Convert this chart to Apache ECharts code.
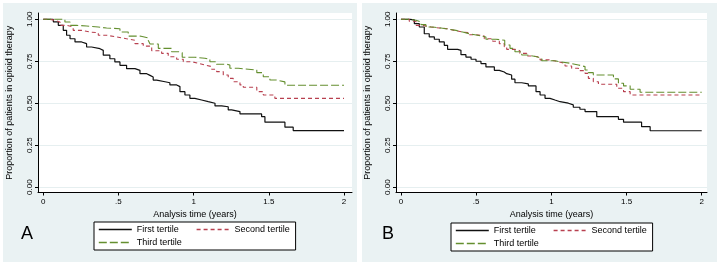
<!DOCTYPE html>
<html>
<head>
<meta charset="utf-8">
<script src="https://cdn.jsdelivr.net/npm/echarts@6/dist/echarts.min.js"></script>
<style>
  html, body { margin: 0; padding: 0; background: #fff; }
  #wrap { position: relative; width: 720px; height: 269px; }
  .panel { position: absolute; top: 3px; height: 259px; background: #eaf2f3; }
  #chart { position: absolute; left: 0; top: 0; width: 720px; height: 269px; }
</style>
</head>
<body>
<div id="wrap">
  <div class="panel" style="left:3px;width:354px"></div>
  <div class="panel" style="left:362px;width:355px"></div>
  <div id="chart"></div>
</div>
<script>
// Kaplan-Meier style step curves, [time in years, proportion]
const seriesNames = ['First tertile', 'Second tertile', 'Third tertile'];
const panelLetters = ['A', 'B'];

const xTicks = [0, 0.5, 1, 1.5, 2];
const xTickLabels = ['0', '.5', '1', '1.5', '2'];
const yTicks = [0, 0.25, 0.5, 0.75, 1];
const yTickLabels = ['0.00', '0.25', '0.50', '0.75', '1.00'];
const xTitle = 'Analysis time (years)';
const yTitle = 'Proportion of patients in opioid therapy';

const firstA = [[0,1],[0.067,0.985],[0.1,0.964],[0.133,0.934],[0.155,0.905],[0.178,0.884],[0.211,0.865],[0.255,0.855],
  [0.288,0.835],[0.321,0.825],[0.377,0.815],[0.399,0.786],[0.443,0.765],[0.476,0.746],[0.51,0.726],[0.554,0.706],
  [0.61,0.696],[0.643,0.676],[0.688,0.666],[0.71,0.656],[0.731,0.638],[0.754,0.628],[0.81,0.622],[0.842,0.609],
  [0.887,0.599],[0.909,0.569],[0.942,0.549],[0.975,0.529],[1.008,0.519],[1.053,0.509],[1.097,0.5],[1.142,0.484],
  [1.186,0.479],[1.23,0.46],[1.253,0.45],[1.308,0.436],[1.452,0.42],[1.474,0.387],[1.607,0.357],[1.662,0.337],[2,0.337]];
const secondA = [[0,1],[0.044,0.994],[0.078,0.984],[0.111,0.964],[0.155,0.954],[0.199,0.934],[0.255,0.924],[0.31,0.92],
  [0.366,0.905],[0.421,0.895],[0.488,0.884],[0.554,0.875],[0.61,0.855],[0.665,0.84],[0.721,0.813],[0.787,0.797],
  [0.831,0.777],[0.887,0.762],[0.931,0.747],[0.987,0.738],[1.031,0.728],[1.075,0.718],[1.12,0.702],[1.153,0.688],
  [1.197,0.668],[1.23,0.648],[1.263,0.628],[1.308,0.609],[1.33,0.595],[1.42,0.569],[1.463,0.549],[1.54,0.529],[2,0.529]];
const thirdA = [[0,1],[0.144,0.984],[0.178,0.964],[0.222,0.96],[0.288,0.954],[0.366,0.948],[0.421,0.944],[0.51,0.924],
  [0.565,0.9],[0.643,0.889],[0.698,0.875],[0.71,0.853],[0.765,0.827],[0.853,0.807],[0.909,0.801],[0.924,0.774],
  [1.008,0.768],[1.075,0.762],[1.108,0.747],[1.152,0.732],[1.219,0.728],[1.241,0.708],[1.297,0.698],[1.42,0.682],
  [1.463,0.658],[1.507,0.638],[1.55,0.627],[1.607,0.607],[2,0.607]];

const firstB = [[0,1],[0.06,0.996],[0.089,0.974],[0.122,0.954],[0.155,0.914],[0.188,0.895],[0.222,0.881],[0.255,0.865],
  [0.288,0.845],[0.31,0.821],[0.377,0.815],[0.399,0.789],[0.432,0.775],[0.466,0.762],[0.499,0.75],[0.532,0.736],
  [0.565,0.716],[0.621,0.696],[0.654,0.686],[0.687,0.676],[0.703,0.668],[0.736,0.643],[0.758,0.622],[0.803,0.615],
  [0.847,0.603],[0.898,0.569],[0.925,0.549],[0.958,0.529],[0.991,0.519],[1.024,0.509],[1.058,0.5],[1.113,0.49],
  [1.146,0.476],[1.19,0.464],[1.224,0.45],[1.302,0.42],[1.446,0.404],[1.48,0.387],[1.6,0.36],[1.657,0.336],[2,0.336]];
const secondB = [[0,1],[0.055,0.988],[0.1,0.964],[0.144,0.954],[0.2,0.948],[0.255,0.944],[0.31,0.934],[0.355,0.924],
  [0.41,0.92],[0.454,0.908],[0.499,0.9],[0.554,0.884],[0.61,0.869],[0.654,0.855],[0.687,0.837],[0.703,0.821],
  [0.758,0.813],[0.791,0.797],[0.836,0.781],[0.88,0.774],[0.925,0.758],[0.991,0.747],[1.046,0.738],[1.091,0.722],
  [1.135,0.708],[1.18,0.694],[1.224,0.678],[1.246,0.648],[1.279,0.628],[1.313,0.613],[1.435,0.589],[1.48,0.569],
  [1.524,0.549],[2,0.549]];
const thirdB = [[0,1],[0.055,0.994],[0.1,0.984],[0.133,0.968],[0.166,0.954],[0.211,0.948],[0.266,0.94],[0.321,0.934],
  [0.366,0.924],[0.41,0.914],[0.454,0.905],[0.51,0.895],[0.565,0.881],[0.632,0.875],[0.69,0.847],[0.725,0.827],
  [0.758,0.807],[0.803,0.787],[0.836,0.777],[0.903,0.768],[0.936,0.753],[1.024,0.747],[1.058,0.738],[1.124,0.728],
  [1.18,0.718],[1.224,0.698],[1.246,0.682],[1.279,0.668],[1.413,0.645],[1.446,0.619],[1.48,0.603],[1.524,0.583],
  [1.59,0.565],[2,0.565]];

const panelData = [[firstA, secondA, thirdA], [firstB, secondB, thirdB]];

const font = '"Liberation Sans", Arial, sans-serif';
const lineColors = ['#111111', '#b8404f', '#648f2f'];
const lineDash = ['solid', [4, 3], [8, 3]];
const lineWidths = [1.2, 1.1, 1.1];
const legendLineWidth = 1.6;

// plot region of each panel (white area) and the axis range that maps onto it
const grids = [
  { left: 38, top: 13, width: 314, height: 179.5 },
  { left: 396, top: 13, width: 311, height: 179.5 }
];
const xRange = [[-0.035, 2.053], [-0.033, 2.035]];
const yRange = [-0.032, 1.0375];
const legendPos = [{ left: 94, top: 222 }, { left: 451, top: 223 }];
const letterPos = [21, 382];

const chart = echarts.init(document.getElementById('chart'), null, { renderer: 'canvas' });

const axisLineStyle = { color: '#000', width: 1 };

const option = {
  animation: false,
  textStyle: { fontFamily: font },
  title: panelLetters.map((t, i) => ({
    text: t, left: letterPos[i], top: 225, padding: 0,
    textStyle: { fontSize: 18, fontWeight: 'normal', color: '#000', fontFamily: font }
  })),
  grid: grids.map(g => Object.assign({ show: true, backgroundColor: '#fff', borderWidth: 0 }, g)),
  xAxis: grids.map((g, i) => ({
    type: 'value', gridIndex: i, min: xRange[i][0], max: xRange[i][1],
    axisLine: { show: true, onZero: false, lineStyle: axisLineStyle },
    axisTick: { show: true, length: 3, customValues: xTicks, lineStyle: axisLineStyle },
    axisLabel: {
      customValues: xTicks, fontSize: 8, color: '#000', margin: 5, fontFamily: font,
      formatter: v => xTickLabels[xTicks.indexOf(v)]
    },
    splitLine: { show: false },
    name: xTitle, nameLocation: 'middle', nameGap: 14,
    nameTextStyle: { fontSize: 9, color: '#000', fontFamily: font }
  })),
  yAxis: grids.map((g, i) => ({
    type: 'value', gridIndex: i, min: yRange[0], max: yRange[1],
    axisLine: { show: true, onZero: false, lineStyle: axisLineStyle },
    axisTick: { show: true, length: 3, customValues: yTicks, lineStyle: axisLineStyle },
    axisLabel: {
      customValues: yTicks, fontSize: 8, color: '#000', margin: 4, rotate: 90, fontFamily: font,
      formatter: v => yTickLabels[yTicks.indexOf(v)]
    },
    splitLine: { show: true, lineStyle: { color: '#e6eff0', width: 1 } },
    name: yTitle, nameLocation: 'middle', nameGap: 24,
    nameTextStyle: { fontSize: 9, color: '#000', fontFamily: font }
  })),
  legend: legendPos.map(p => ({
    left: p.left, top: p.top, width: 195, orient: 'horizontal',
    data: seriesNames.map((n, k) => ({
      name: n,
      lineStyle: {
        color: lineColors[k], width: legendLineWidth, type: lineDash[k],
        inactiveColor: lineColors[k], inactiveWidth: legendLineWidth
      }
    })),
    padding: [2, 4, 2, 4], itemGap: 2, itemWidth: 33, itemHeight: 10,
    backgroundColor: '#fff', borderColor: '#000', borderWidth: 1, borderRadius: 0,
    selectedMode: false,
    itemStyle: { opacity: 0, borderWidth: 0 },
    textStyle: { fontSize: 9, color: '#000', width: 57, lineHeight: 11, fontFamily: font }
  })),
  series: []
};

panelData.forEach((curves, p) => {
  curves.forEach((pts, k) => {
    option.series.push({
      name: seriesNames[k], type: 'line', step: 'end',
      xAxisIndex: p, yAxisIndex: p,
      symbol: 'none', silent: true,
      data: pts,
      color: lineColors[k],
      lineStyle: { color: lineColors[k], width: lineWidths[k], type: lineDash[k] }
    });
  });
});

chart.setOption(option);
</script>
</body>
</html>
